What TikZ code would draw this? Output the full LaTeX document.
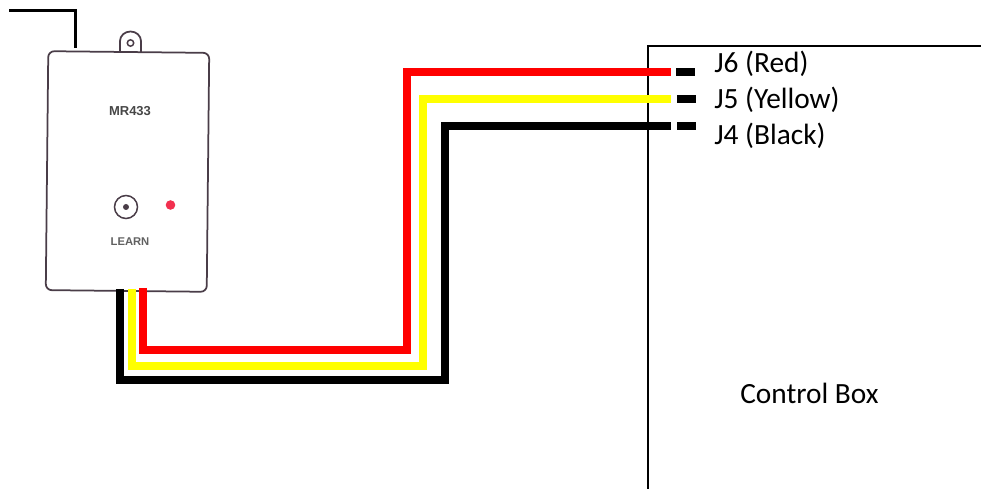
\documentclass[tikz,border=0pt]{standalone}
\usepackage{fontspec}
\setmainfont{Carlito}
\newfontfamily\devfont{Liberation Sans}
\definecolor{casing}{HTML}{4A3D48}
\definecolor{ledred}{HTML}{F2304F}
\definecolor{wirered}{HTML}{FF0000}
\definecolor{wireyellow}{HTML}{FFFF00}
\tikzset{
    wire/.style={line width=0.16cm},
    stubwire/.style={fill=black,inner sep=0pt,minimum width=0.38cm,minimum height=0.16cm},
    pinlabel/.style={anchor=base west,inner sep=0pt,font=\fontsize{16.7}{18}\selectfont},
    devlabel/.style={inner sep=0pt,font=\devfont\bfseries}
}

\begin{document}
\begin{tikzpicture}[x=0.02cm,y=-0.02cm]
    \useasboundingbox (0,0) rectangle (981,489);
    % control box
    \coordinate (boxtop) at (981,46);
    \coordinate (boxcorner) at (648,46);
    \coordinate (boxbottom) at (648,489);
    \draw[line width=0.03cm] (boxtop) -- (boxcorner) -- (boxbottom);
    \node[pinlabel] (boxlabel) at (740,404) {Control Box};
    % receiver
    \draw[casing,line width=0.035cm,fill=white] (120,53) -- (120,41) arc (180:360:10.5 and 9.5) -- (141,53);
    \node[draw=casing,line width=0.035cm,rounded corners=0.12cm,rotate=-0.6,minimum width=3.22cm,minimum height=4.78cm,inner sep=0pt] (receiver) at (127.5,171.5) {};
    \draw[casing,line width=0.03cm] (130.5,43) circle (3.2);
    \coordinate (antennaend) at (9,11);
    \coordinate (antennabend) at (75,11);
    \coordinate (antennafoot) at (75,48);
    \draw[line width=0.06cm] (antennaend) -- (antennabend) -- (antennafoot);
    \node[devlabel,text=black!72,font=\devfont\bfseries\fontsize{7.4}{9}\selectfont] (model) at (130,111) {MR433};
    \node[devlabel,text=black!62,font=\devfont\bfseries\fontsize{6.4}{8}\selectfont] (learn) at (130,242) {LEARN};
    \draw[casing,line width=0.03cm] (126,207) circle (11.5);
    \fill[casing] (126,207) circle (3);
    \fill[ledred] (170.5,205) circle (4.8);
    % stubs at the terminals
    \node[stubwire] (stubsix) at (685,71.7) {};
    \node[stubwire] (stubfive) at (686.5,99) {};
    \node[stubwire] (stubfour) at (686.5,126) {};
    \node[pinlabel] (jsix) at (714,73) {J6 (Red)};
    \node[pinlabel] (jfive) at (714,109) {J5 (Yellow)};
    \node[pinlabel] (jfour) at (714,145) {J4 (Black)};
    % wires
    \coordinate (redstart) at (143,288);
    \coordinate (redend) at (671,71.7);
    \coordinate (yellowstart) at (131.7,289);
    \coordinate (yellowend) at (671,99);
    \coordinate (blackstart) at (120,289);
    \coordinate (blackend) at (671,126);
    \draw[wire,black] (blackstart) |- (444.7,380.5) |- (blackend);
    \draw[wire,wireyellow] (yellowstart) |- (423,366) |- (yellowend);
    \draw[wire,wirered] (redstart) |- (407,350.5) |- (redend);
\end{tikzpicture}
\end{document}
